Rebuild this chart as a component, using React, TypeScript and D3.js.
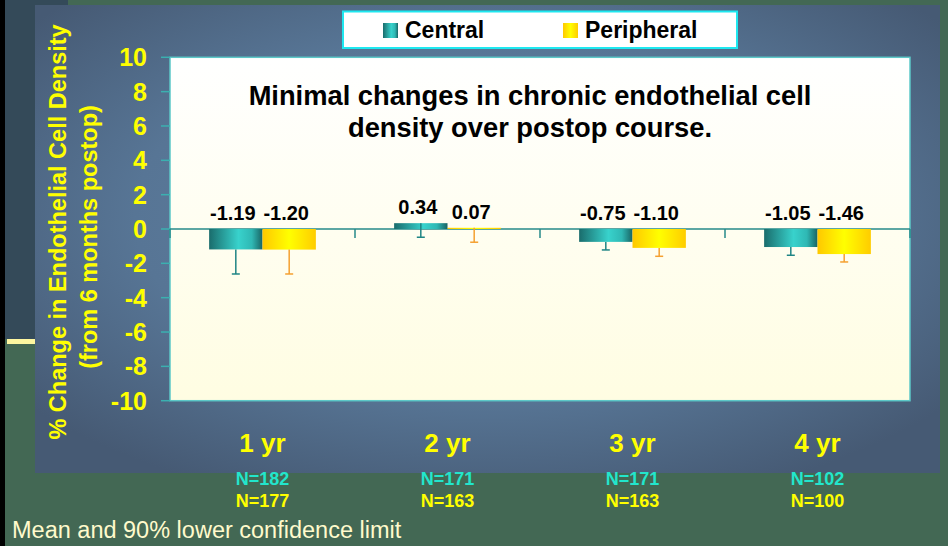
import React from 'react';
import * as d3 from 'd3';

const categories = ['1 yr', '2 yr', '3 yr', '4 yr'];
const seriesNames = ['Central', 'Peripheral'];
const centralMeans = [-1.19, 0.34, -0.75, -1.05];
const peripheralMeans = [-1.2, 0.07, -1.1, -1.46];
const centralLower = [-2.62, -0.48, -1.22, -1.53];
const peripheralLower = [-2.62, -0.77, -1.59, -1.92];
const centralN = [182, 171, 171, 102];
const peripheralN = [177, 163, 163, 100];
const yTicks = [10, 8, 6, 4, 2, 0, -2, -4, -6, -8, -10];

const W = 948;
const H = 546;
const FONT = 'Liberation Sans, Arial, Helvetica, sans-serif';

const plot = { left: 170, right: 910, top: 57.3, bottom: 400.7 };

const App = () => {
  const x = d3.scaleBand<string>()
    .domain(categories)
    .range([plot.left, plot.right])
    .paddingInner(0.423)
    .paddingOuter(0.2115);
  const xInner = d3.scaleBand<string>()
    .domain(seriesNames)
    .range([0, x.bandwidth()]);
  const y = d3.scaleLinear().domain([-10, 10]).range([plot.bottom, plot.top]);

  const series = [
    { name: 'Central', means: centralMeans, lower: centralLower, fill: 'url(#gCentral)', err: '#1f8585' },
    { name: 'Peripheral', means: peripheralMeans, lower: peripheralLower, fill: 'url(#gPeriph)', err: '#f5a030' },
  ];

  // category boundaries for small ticks on the zero line
  const step = x.step();
  const boundaries = d3.range(categories.length + 1).map(i => plot.left + i * step);

  return (
    <svg width={W} height={H} style={{ position: 'absolute', left: 0, top: 0, display: 'block' }} fontFamily={FONT}>
      <defs>
        <radialGradient id="gPanel" cx="50%" cy="45%" r="65%">
          <stop offset="0%" stopColor="#6082a4" />
          <stop offset="60%" stopColor="#577595" />
          <stop offset="100%" stopColor="#465a74" />
        </radialGradient>
        <linearGradient id="gPlot" x1="0" y1="0" x2="0" y2="1">
          <stop offset="0%" stopColor="#ffffff" />
          <stop offset="100%" stopColor="#fffde2" />
        </linearGradient>
        <linearGradient id="gCentral" x1="0" y1="0" x2="1" y2="0">
          <stop offset="0%" stopColor="#1a6c6c" />
          <stop offset="55%" stopColor="#38d2cc" />
          <stop offset="80%" stopColor="#2fb8b4" />
          <stop offset="100%" stopColor="#186464" />
        </linearGradient>
        <linearGradient id="gPeriph" x1="0" y1="0" x2="1" y2="0">
          <stop offset="0%" stopColor="#ffc800" />
          <stop offset="50%" stopColor="#ffff00" />
          <stop offset="100%" stopColor="#ffcc00" />
        </linearGradient>
      </defs>

      {/* slide background */}
      <rect x={0} y={0} width={W} height={H} fill="#436854" />
      <rect x={0} y={0} width={5} height={H} fill="#000000" />
      <rect x={5} y={0} width={63} height={339} fill="#344a59" />
      <rect x={7} y={339} width={30} height={5} fill="#fdf6a0" />

      {/* chart panel */}
      <rect x={35} y={5} width={905} height={468} fill="url(#gPanel)" />

      {/* plot area */}
      <rect x={plot.left} y={plot.top} width={plot.right - plot.left} height={plot.bottom - plot.top}
        fill="url(#gPlot)" stroke="#5cc8c8" strokeWidth={1.5} />

      {/* y axis ticks and labels */}
      {yTicks.map(t => (
        <g key={t}>
          <line x1={161} x2={plot.left} y1={y(t)} y2={y(t)} stroke="#3bb0b0" strokeWidth={1.5} />
          <text x={147} y={y(t)} dy="0.36em" textAnchor="end" fontSize={25} fontWeight="bold" fill="#ffff00">{t}</text>
        </g>
      ))}

      {/* zero line */}
      <line x1={plot.left} x2={plot.right} y1={y(0)} y2={y(0)} stroke="#268a8a" strokeWidth={1.5} />
      {boundaries.map((b, i) => (
        <line key={i} x1={b} x2={b} y1={y(0)} y2={y(0) + 9} stroke="#268a8a" strokeWidth={1.5} />
      ))}

      {/* title */}
      <text x={530} y={105} textAnchor="middle" fontSize={27.3} fontWeight="bold" fill="#000">
        Minimal changes in chronic endothelial cell
      </text>
      <text x={530} y={137} textAnchor="middle" fontSize={27.3} fontWeight="bold" fill="#000">
        density over postop course.
      </text>

      {/* bars */}
      {series.map(s => categories.map((c, i) => {
        const v = s.means[i];
        const bx = (x(c) ?? 0) + (xInner(s.name) ?? 0);
        const bw = xInner.bandwidth();
        const top = y(Math.max(v, 0));
        const h = Math.max(Math.abs(y(v) - y(0)), 1.2);
        return (
          <rect key={s.name + c} x={bx} y={top} width={bw} height={h} fill={s.fill} />
        );
      }))}

      {/* error bars (lower limit) */}
      {series.map(s => categories.map((c, i) => {
        const cx = (x(c) ?? 0) + (xInner(s.name) ?? 0) + xInner.bandwidth() / 2;
        const y1 = y(s.means[i]);
        const y2 = y(s.lower[i]);
        return (
          <g key={'e' + s.name + c} stroke={s.err} strokeWidth={1.5}>
            <line x1={cx} x2={cx} y1={y1} y2={y2} />
            <line x1={cx - 4} x2={cx + 4} y1={y2} y2={y2} />
          </g>
        );
      }))}

      {/* value labels */}
      {series.map(s => categories.map((c, i) => {
        const v = s.means[i];
        const cx = (x(c) ?? 0) + (xInner(s.name) ?? 0) + xInner.bandwidth() / 2 - 3;
        return (
          <text key={'v' + s.name + c} x={cx} y={y(Math.max(v, 0)) - 9} textAnchor="middle"
            fontSize={20} fontWeight="bold" fill="#000">{v.toFixed(2)}</text>
        );
      }))}

      {/* category labels and counts */}
      {categories.map((c, i) => {
        const cx = (x(c) ?? 0) + x.bandwidth() / 2;
        return (
          <g key={'c' + c}>
            <text x={cx} y={452} textAnchor="middle" fontSize={26} fontWeight="bold" fill="#ffff00">{c}</text>
            <text x={cx} y={485} textAnchor="middle" fontSize={18} fontWeight="bold" fill="#22e6cc">N={centralN[i]}</text>
            <text x={cx} y={507} textAnchor="middle" fontSize={18} fontWeight="bold" fill="#ffff00">N={peripheralN[i]}</text>
          </g>
        );
      })}

      {/* y axis title */}
      <g transform="translate(66,232) rotate(-90)">
        <text x={0} y={0} textAnchor="middle" fontSize={23.5} fontWeight="bold" fill="#ffff00">
          % Change in Endothelial Cell Density
        </text>
      </g>
      <g transform="translate(97,237) rotate(-90)">
        <text x={0} y={0} textAnchor="middle" fontSize={23.5} fontWeight="bold" fill="#ffff00">
          (from 6 months postop)
        </text>
      </g>

      {/* legend */}
      <rect x={343} y={11.5} width={394} height={36.5} fill="#ffffff" stroke="#1ee8f0" strokeWidth={2} />
      <rect x={383} y={23} width={15} height={15} fill="url(#gCentral)" />
      <text x={405} y={38} fontSize={23} fontWeight="bold" fill="#000">Central</text>
      <rect x={563} y={23} width={15} height={15} fill="url(#gPeriph)" />
      <text x={585} y={38} fontSize={23} fontWeight="bold" fill="#000">Peripheral</text>

      {/* footnote */}
      <text x={12} y={538} fontSize={23.5} fill="#fffacc">Mean and 90% lower confidence limit</text>
    </svg>
  );
};

export default App;
